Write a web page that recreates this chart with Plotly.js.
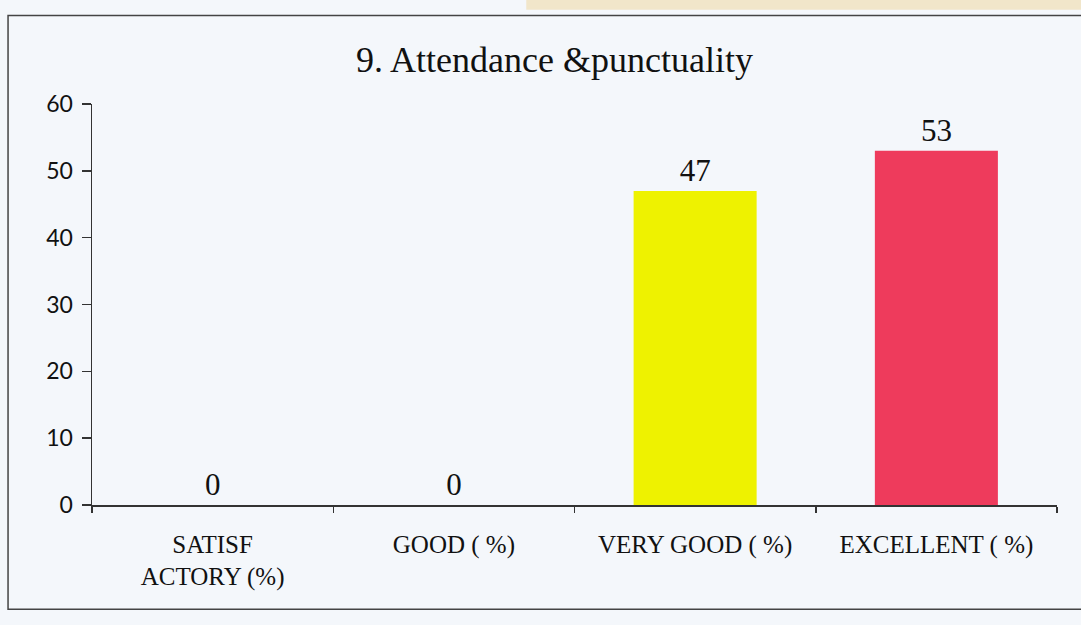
<!DOCTYPE html>
<html>
<head>
<meta charset="utf-8">
<script src="https://cdn.plot.ly/plotly-3.0.1.min.js"></script>
<style>html,body{margin:0;padding:0;background:#f4f7fb;}#chart{width:1081px;height:625px;}</style>
</head>
<body>
<div id="chart"></div>
<script>
const categories = ["SATISF<br>ACTORY (%)", "GOOD ( %)", "VERY GOOD ( %)", "EXCELLENT ( %)"];
const values = [0, 0, 47, 53];
const labels = ["0", "0", "47", "53"];
const barColors = ["#4f81bd", "#c0504d", "#eef200", "#ee3b5c"];
const yTicks = [0, 10, 20, 30, 40, 50, 60];

const trace = {
  type: "bar",
  x: categories,
  y: values,
  text: labels,
  textposition: "outside",
  cliponaxis: false,
  textfont: {family: "Liberation Serif, Times New Roman, serif", size: 31, color: "#111"},
  marker: {color: barColors, line: {width: 0}},
  width: 0.51,
  hoverinfo: "skip"
};

const layout = {
  width: 1081, height: 625,
  margin: {l: 92, r: 24, t: 104, b: 120},
  paper_bgcolor: "#f4f7fb",
  plot_bgcolor: "rgba(0,0,0,0)",
  showlegend: false,
  title: {
    text: "9. Attendance &punctuality",
    font: {family: "Liberation Serif, Times New Roman, serif", size: 36, color: "#111"},
    x: 0.513, xanchor: "center", y: 0.905, yanchor: "middle"
  },
  xaxis: {
    type: "category",
    showline: true, linecolor: "#333", linewidth: 1.5,
    ticks: "outside", tickson: "boundaries", ticklen: 6, tickcolor: "#333", tickwidth: 1.5,
    ticklabelstandoff: 16,
    tickfont: {family: "Liberation Serif, Times New Roman, serif", size: 25, color: "#111"},
    showgrid: false, zeroline: false
  },
  yaxis: {
    range: [0, 60],
    tickvals: yTicks,
    showline: true, linecolor: "#333", linewidth: 1.5,
    ticks: "outside", ticklen: 9, tickcolor: "#333", tickwidth: 1.5,
    ticklabelstandoff: 4,
    tickfont: {family: "Lato, Open Sans, sans-serif", size: 23, color: "#111"},
    showgrid: false, zeroline: false
  },
  shapes: [
    {type: "rect", xref: "paper", yref: "paper", x0: 0.45, x1: 1.1, y0: 1.235, y1: 1.27,
     fillcolor: "rgba(238,205,130,0.4)", line: {width: 0}, layer: "below"},
    {type: "rect", xref: "paper", yref: "paper", x0: -0.087, x1: 1.1, y0: -0.26, y1: 1.221,
     fillcolor: "rgba(0,0,0,0)", line: {color: "#444", width: 1.5}, layer: "below"}
  ]
};

Plotly.newPlot("chart", [trace], layout, {displayModeBar: false, staticPlot: true});
</script>
</body>
</html>
